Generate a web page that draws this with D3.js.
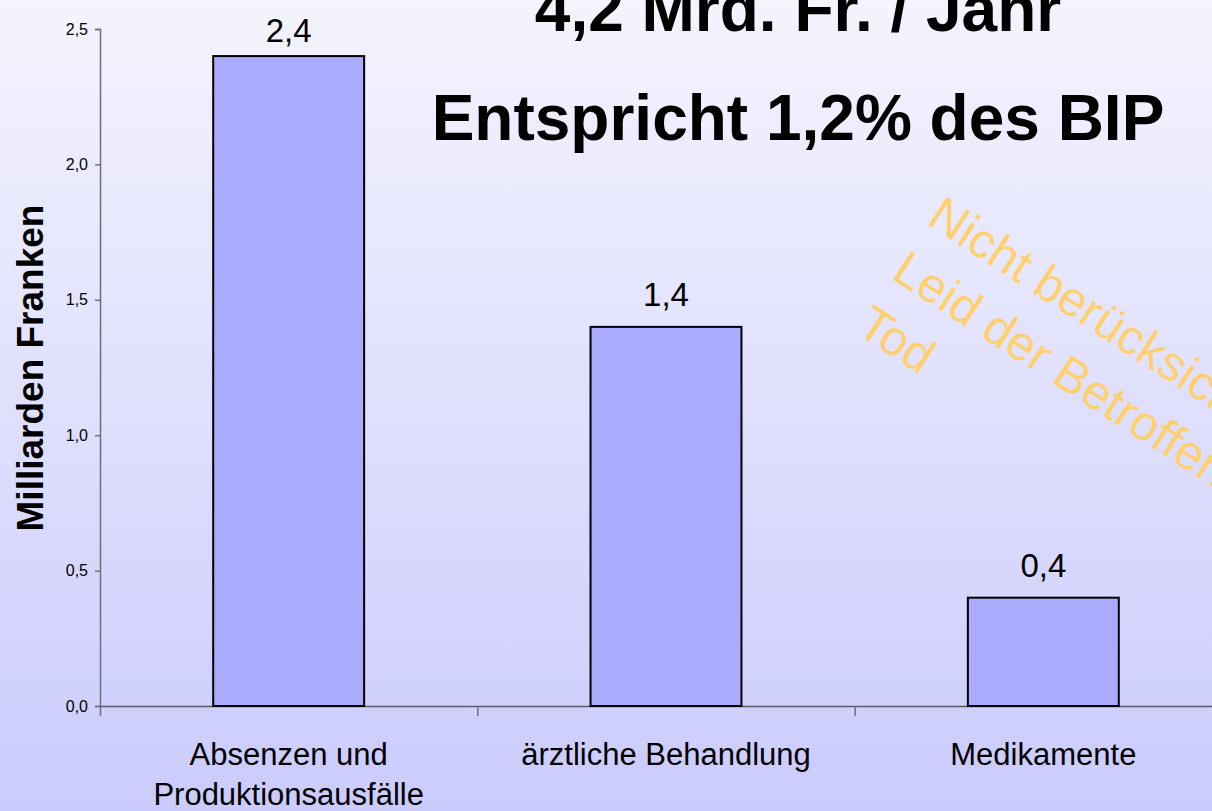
<!DOCTYPE html>
<html>
<head>
<meta charset="utf-8">
<script src="https://cdn.jsdelivr.net/npm/d3@7"></script>
<style>
  body { margin: 0; }
  svg { display: block; font-family: 'Liberation Sans', Arial, sans-serif; }
</style>
</head>
<body>
<script>
'use strict';

const width = 1212;
const height = 811;

const categories = ['Absenzen und\nProduktionsausfälle', 'ärztliche Behandlung', 'Medikamente'];
const values = [2.4, 1.4, 0.4];
const yTicks = [0, 0.5, 1.0, 1.5, 2.0, 2.5];
const titleLines = ['4,2 Mrd. Fr. / Jahr', 'Entspricht 1,2% des BIP'];
const noteLines = ['Nicht berücksichtigt:', 'Leid der Betroffenen', 'Tod'];

const plotLeft = 100;
const plotRight = 1232;
const plotTop = 29;
const plotBottom = 706;

const de = d3.formatLocale({ decimal: ',', thousands: '.', grouping: [3], currency: ['', ' Fr.'] });
const fmt = de.format('.1f');

const svg = d3.select('body')
  .append('svg')
  .attr('width', width)
  .attr('height', height);

const grad = svg.append('defs')
  .append('linearGradient')
  .attr('id', 'bg')
  .attr('x1', 0).attr('y1', 0)
  .attr('x2', 0).attr('y2', 1);
grad.append('stop').attr('offset', '0%').attr('stop-color', '#f4f4fe');
grad.append('stop').attr('offset', '100%').attr('stop-color', '#cbcbfd');

svg.append('rect')
  .attr('width', width)
  .attr('height', height)
  .attr('fill', 'url(#bg)');

let xScale = d3.scaleBand()
  .domain(categories)
  .range([plotLeft, plotRight])
  .paddingInner(0.6)
  .paddingOuter(0.3);

let edgeScale = d3.scaleLinear()
  .domain([0, categories.length])
  .range([plotLeft, plotRight]);

let yScale = d3.scaleLinear()
  .domain([0, 2.5])
  .range([plotBottom, plotTop]);

// y axis
let yAxis = d3.axisLeft(yScale)
  .tickValues(yTicks)
  .tickFormat(fmt)
  .tickSize(5)
  .tickPadding(7);

const gy = svg.append('g')
  .attr('transform', `translate(${plotLeft}, 0)`)
  .call(yAxis);
gy.select('.domain').attr('stroke', '#6e6e76').attr('stroke-width', 1.5);
gy.selectAll('.tick line').attr('stroke', '#6e6e76').attr('stroke-width', 1.5);
gy.selectAll('.tick text')
  .attr('font-size', '16px')
  .attr('font-family', 'Liberation Sans, Arial, sans-serif')
  .attr('fill', '#000');

// x axis: ticks at category boundaries
let xAxis = d3.axisBottom(edgeScale)
  .tickValues(d3.range(categories.length + 1))
  .tickFormat('')
  .tickSizeInner(10)
  .tickSizeOuter(0);

const gx = svg.append('g')
  .attr('transform', `translate(0, ${plotBottom})`)
  .call(xAxis);
gx.select('.domain').attr('stroke', '#5a5a62').attr('stroke-width', 1.5);
gx.selectAll('.tick line').attr('stroke', '#6e6e76').attr('stroke-width', 1.5);

// bars
svg.selectAll('rect.bar')
  .data(values)
  .enter()
  .append('rect')
  .attr('class', 'bar')
  .attr('x', (d, i) => xScale(categories[i]))
  .attr('y', (d) => yScale(d))
  .attr('width', xScale.bandwidth())
  .attr('height', (d) => plotBottom - yScale(d))
  .attr('fill', '#aaaaff')
  .attr('stroke', '#000')
  .attr('stroke-width', 2);

// value labels (kept inside the frame at the top)
svg.selectAll('text.label')
  .data(values)
  .enter()
  .append('text')
  .attr('class', 'label')
  .text((d) => fmt(d))
  .attr('text-anchor', 'middle')
  .attr('x', (d, i) => xScale(categories[i]) + xScale.bandwidth() / 2)
  .attr('y', (d) => Math.max(yScale(d) - 21, 42))
  .attr('font-size', '33px')
  .attr('fill', '#000');

// category labels
const cat = svg.selectAll('text.cat')
  .data(categories)
  .enter()
  .append('text')
  .attr('class', 'cat')
  .attr('text-anchor', 'middle')
  .attr('font-size', '31px')
  .attr('fill', '#000')
  .attr('transform', (d) => `translate(${xScale(d) + xScale.bandwidth() / 2}, 765)`);

cat.selectAll('tspan')
  .data((d) => d.split('\n'))
  .enter()
  .append('tspan')
  .attr('x', 0)
  .attr('dy', (d, i) => i === 0 ? 0 : 40)
  .text((d) => d);

// y axis title
svg.append('text')
  .attr('transform', 'translate(43, 368) rotate(-90)')
  .attr('text-anchor', 'middle')
  .attr('font-size', '37px')
  .attr('font-weight', 'bold')
  .attr('fill', '#000')
  .text('Milliarden Franken');

// headline
svg.selectAll('text.title')
  .data(titleLines)
  .enter()
  .append('text')
  .attr('class', 'title')
  .attr('text-anchor', 'middle')
  .attr('x', 798)
  .attr('y', (d, i) => 31 + i * 109)
  .attr('font-size', '64px')
  .attr('font-weight', 'bold')
  .attr('fill', '#000')
  .text((d) => d);

// rotated note
const note = svg.append('g')
  .attr('transform', 'translate(925, 223) rotate(33)');

note.selectAll('text')
  .data(noteLines)
  .enter()
  .append('text')
  .attr('x', 0)
  .attr('y', (d, i) => i * 65)
  .attr('font-size', '49px')
  .attr('fill', '#ffd070')
  .text((d) => d);
</script>
</body>
</html>
